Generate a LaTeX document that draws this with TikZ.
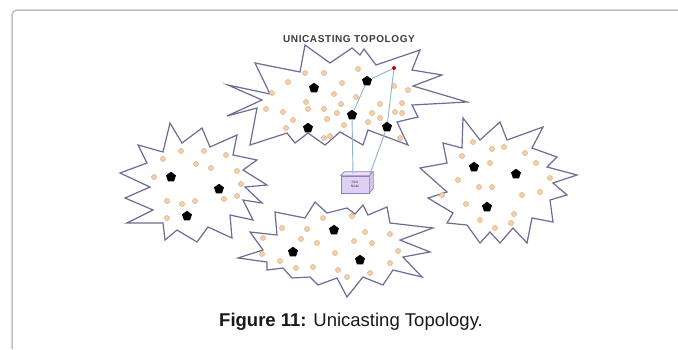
\documentclass[tikz,border=0pt]{standalone}
\usepackage{fontspec}
\setmainfont{Liberation Sans}
\usetikzlibrary{shapes.geometric}
\definecolor{starc}{RGB}{112,106,150}
\definecolor{dotfill}{RGB}{246,208,170}
\definecolor{dotdraw}{RGB}{222,172,125}
\definecolor{linkc}{RGB}{140,180,210}
\definecolor{sinkfill}{RGB}{222,208,240}
\definecolor{sinkfilltop}{RGB}{236,226,248}
\definecolor{sinkdraw}{RGB}{150,125,190}
\definecolor{sinktext}{RGB}{80,50,110}
\definecolor{framec}{RGB}{190,190,190}
\definecolor{titlec}{RGB}{60,60,60}
\begin{document}
\begin{tikzpicture}[x=1pt,y=-1pt,
  starline/.style={draw=starc, line width=1.2pt, line join=miter, fill=white},
  sensor/.style={circle, fill=dotfill, draw=dotdraw, line width=0.5pt, inner sep=0pt, minimum size=5pt},
  head/.style={regular polygon, regular polygon sides=5, fill=black, inner sep=0pt, minimum size=10.5pt},
  link/.style={draw=linkc, line width=0.9pt},
  sinkbox/.style={draw=sinkdraw, fill=sinkfill, line width=0.6pt, minimum width=28pt, minimum height=17pt, inner sep=0pt, align=center, font=\fontsize{3.5}{4.2}\selectfont, text=sinktext},
]
\useasboundingbox (0,0) rectangle (678,349);
\fill[white] (0,0) rectangle (678,349);
% frame
\draw[framec, line width=1.5pt, rounded corners=5pt] (678,10) -- (12,10) -- (12,349);

% title
\node[font=\bfseries\fontsize{10}{12}\selectfont\addfontfeatures{LetterSpace=6}, text=titlec] (title) at (349,39) {UNICASTING TOPOLOGY};

% top star
\draw[starline] (228,85) -- (270,94) -- (255,63) -- (300,72) -- (305,45) -- (330,63) -- (352,48) -- (360,55) -- (364,49) -- (376,65) -- (420,50) -- (412,70) -- (442,75) -- (413,86) -- (467,102) -- (412,105) -- (418,117) -- (397,122) -- (408,145) -- (368,130) -- (363,145) -- (340,132) -- (325,145) -- (308,133) -- (295,143) -- (287,133) -- (250,145) -- (257,108) -- (227,116) -- (262,100) -- cycle;

% left star
\draw[starline] (138,145) -- (163,152) -- (170,123) -- (182,143) -- (202,128) -- (210,147) -- (237,135) -- (233,155) -- (257,160) -- (243,170) -- (267,185) -- (245,187) -- (262,203) -- (243,200) -- (253,220) -- (230,215) -- (232,238) -- (208,227) -- (197,242) -- (177,230) -- (165,240) -- (163,223) -- (127,223) -- (153,210) -- (125,198) -- (150,187) -- (120,173) -- (147,163) -- cycle;

% right star
\draw[starline] (443,143) -- (462,148) -- (463,118) -- (480,140) -- (500,122) -- (507,140) -- (543,127) -- (532,148) -- (557,157) -- (547,167) -- (577,175) -- (553,183) -- (567,195) -- (550,200) -- (553,222) -- (532,218) -- (527,243) -- (513,228) -- (500,243) -- (490,232) -- (480,243) -- (467,225) -- (447,223) -- (453,213) -- (428,198) -- (447,192) -- (420,168) -- (447,163) -- cycle;

% bottom star
\draw[starline] (250,232) -- (277,235) -- (275,212) -- (305,218) -- (315,202) -- (327,213) -- (347,208) -- (355,214) -- (363,205) -- (368,215) -- (387,207) -- (390,223) -- (433,228) -- (400,240) -- (430,252) -- (403,257) -- (422,277) -- (393,270) -- (383,285) -- (363,277) -- (347,297) -- (337,278) -- (318,285) -- (310,277) -- (292,278) -- (283,268) -- (267,270) -- (267,262) -- (238,258) -- (263,250) -- cycle;

% sensor nodes
\foreach \x/\y [count=\i] in {305/73,324/73,358/69,288/82,342/83,272/93,334/94,356/97,306/102,341/104,324/109,308/109,337/113,266/109,283/112,293/120,327/119,380/104,372/113,380/118,395/112,402/113,402/103,408/90,394/86,344/125,286/128,324/138,330/136,400/138,368/122}
  \node[sensor] (sa\i) at (\x,\y) {};
\foreach \x/\y [count=\i] in {181/151,204/151,226/155,163/159,196/164,211/168,237/171,154/177,241/184,224/199,237/196,167/201,182/204,195/201,167/218}
  \node[sensor] (sb\i) at (\x,\y) {};
\foreach \x/\y [count=\i] in {473/142,492/149,504/147,462/156,525/153,490/163,536/163,458/180,550/178,479/187,492/187,442/195,522/195,540/192,466/204,514/214,480/220,511/223,495/228}
  \node[sensor] (sc\i) at (\x,\y) {};
\foreach \x/\y [count=\i] in {323/218,352/216,282/228,307/229,365/232,390/234,263/238,301/239,317/243,354/241,372/243,398/251,262/254,335/253,280/261,390/263,296/268,313/267,338/270,347/277,370/273}
  \node[sensor] (sd\i) at (\x,\y) {};

% cluster heads
\node[head] (t1) at (314,88) {};
\node[head] (t2) at (367,81) {};
\node[head] (t3) at (352,115) {};
\node[head] (t4) at (308,128) {};
\node[head] (t5) at (387,127) {};
\node[head] (l1) at (171,177) {};
\node[head] (l2) at (219,189) {};
\node[head] (l3) at (187,216) {};
\node[head] (r1) at (474,167) {};
\node[head] (r2) at (516,174) {};
\node[head] (r3) at (487,207) {};
\node[head] (b1) at (334,230) {};
\node[head] (b2) at (293,252) {};
\node[head] (b3) at (360,260) {};
\node[circle, fill=red!75!black, inner sep=0pt, minimum size=4pt] (relay) at (394,68) {};

% sink node
\node[sinkbox] (sink) at (355,184.5) {Sink\\Node};
\filldraw[draw=sinkdraw, fill=sinkfilltop, line width=0.6pt] (sink.north west) -- ++(4,-4) -- ++(28,0) -- (sink.north east) -- cycle;
\filldraw[draw=sinkdraw, fill=sinkfill!85!sinkdraw, line width=0.6pt] (sink.north east) -- ++(4,-4) -- ++(0,17) -- (sink.south east) -- cycle;
\coordinate (sinkL) at (353,174);
\coordinate (sinkR) at (370,174);

% links
\draw[link] (sinkL) -- (t3) -- (t2) -- (relay) -- (t5) -- (sinkR);

% caption
\node[text=black!90] (caption) at (351,322) {\fontsize{18.5}{22}\selectfont\textbf{Figure 11:} Unicasting Topology.};
\end{tikzpicture}
\end{document}
